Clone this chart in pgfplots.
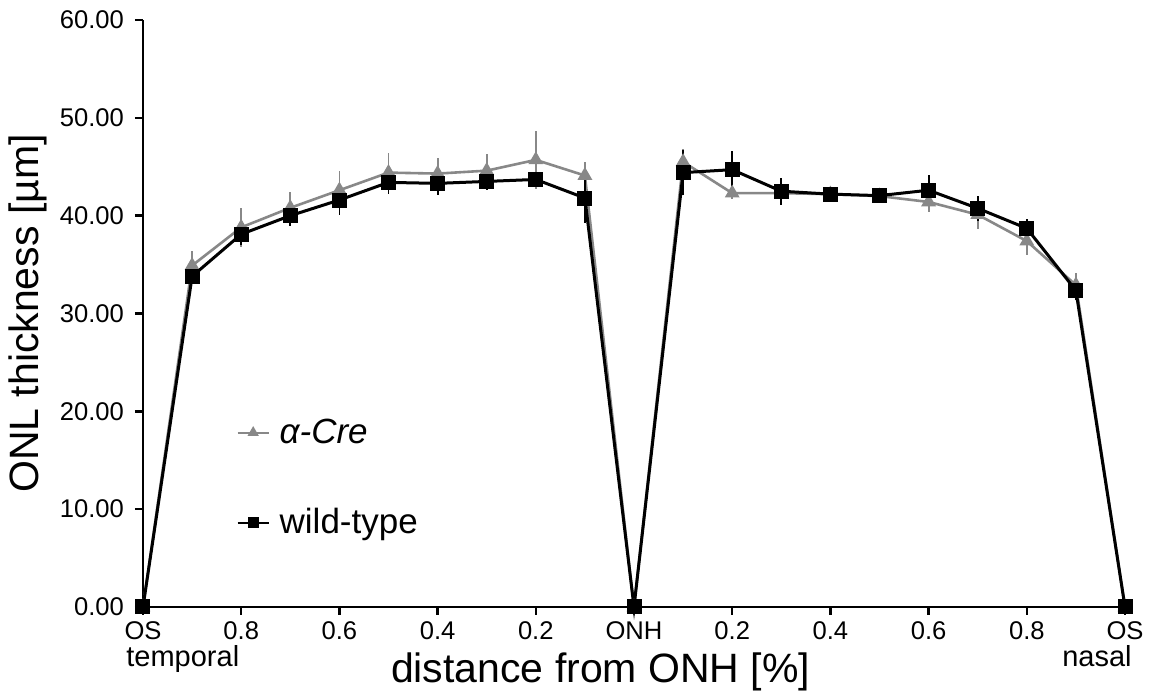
\documentclass[border=0pt]{standalone}
\usepackage{pgfplots}
\pgfplotsset{compat=1.18}
\usepackage{pgfplotstable}
\usepackage{fontspec}
\setmainfont{Liberation Sans}
\definecolor{cregray}{RGB}{136,136,136}

\pgfplotstableread{
x y e
0 0 0
1 34.9 1.5
2 38.8 2.0
3 40.8 1.6
4 42.6 2.0
5 44.4 2.0
6 44.3 1.6
7 44.6 1.7
8 45.7 3.0
9 44.1 1.35
10 0 0
11 45.5 1.3
12 42.3 0.6
13 42.3 1.0
14 42.2 0.5
15 42.0 0.5
16 41.4 1.0
17 40.1 1.5
18 37.4 1.4
19 32.9 1.2
20 0 0
}\cre

\pgfplotstableread{
x y e
0 0 0
1 33.8 0.8
2 38.1 1.1
3 40.0 1.1
4 41.6 1.5
5 43.4 1.2
6 43.3 1.2
7 43.5 0.9
8 43.7 0.8
9 41.8 2.5
10 0 0
11 44.4 2.3
12 44.7 1.9
13 42.5 1.4
14 42.2 0.5
15 42.05 0.4
16 42.6 1.6
17 40.75 1.25
18 38.7 1.0
19 32.35 1.0
20 0 0
}\wt

\begin{document}
\begin{tikzpicture}
\begin{axis}[
  at={(0pt,0pt)}, anchor=south west,
  scale only axis, width=491pt, height=293.5pt,
  xmin=0, xmax=20, ymin=0, ymax=60,
  axis x line*=bottom, axis y line*=left,
  axis line style={line width=1.2pt},
  xtick={0,2,...,20},
  xticklabels={OS,0.8,0.6,0.4,0.2,ONH,0.2,0.4,0.6,0.8,OS},
  ytick={0,10,...,60},
  /pgf/number format/.cd, fixed, fixed zerofill, precision=2, assume math mode=true, /pgfplots/.cd,
  tick align=outside, major tick length=4pt,
  tick style={line width=1.2pt, black},
  tick label style={font=\fontsize{12.8}{15}\selectfont},
  y tick label style={xshift=-2pt},
  xlabel={distance from ONH [\%]},
  ylabel={ONL thickness [µm]},
  label style={font=\fontsize{20.5}{24}\selectfont},
  xlabel style={at={(axis description cs:0.466,-0.111)}, anchor=center},
  ylabel style={at={(axis description cs:-0.117,0.5)}, anchor=center},
  clip=false,
  legend style={draw=none, fill=none, at={(axis description cs:0.095,0.22)}, anchor=west,
    row sep=27pt, column sep=3pt, font=\fontsize{17.5}{20}\selectfont, inner sep=0pt},
  legend cell align=left,
  legend image code/.code={\draw[mark repeat=2,mark phase=2,#1, line width=1pt, mark size=2.3pt] plot coordinates {(0pt,0pt)(7.75pt,0pt)(15.5pt,0pt)};},
]
\addplot[cregray, line width=1.3pt, mark=triangle*, mark size=3pt,
  error bars/.cd, y dir=both, y explicit, error mark=none,
  error bar style={line width=0.9pt, cregray}]
  table[x=x, y=y, y error=e]{\cre};
\addlegendentry{\textit{α-Cre}}
\addplot[black, line width=1.5pt, mark=square*, mark size=3pt,
  error bars/.cd, y dir=both, y explicit, error mark=none,
  error bar style={line width=0.9pt, black}]
  table[x=x, y=y, y error=e]{\wt};
\addlegendentry{wild-type}
\node[anchor=base west, font=\fontsize{14.5}{17}\selectfont, inner sep=0pt] at (axis cs:0,0) [xshift=-8.5pt, yshift=-29.5pt] {temporal};
\node[anchor=base east, font=\fontsize{14.5}{17}\selectfont, inner sep=0pt] at (axis cs:20,0) [xshift=3.5pt, yshift=-29.5pt] {nasal};
\end{axis}
\pgfresetboundingbox
\path (-71.5pt,-44pt) rectangle (503pt,303.5pt);
\end{tikzpicture}
\end{document}
